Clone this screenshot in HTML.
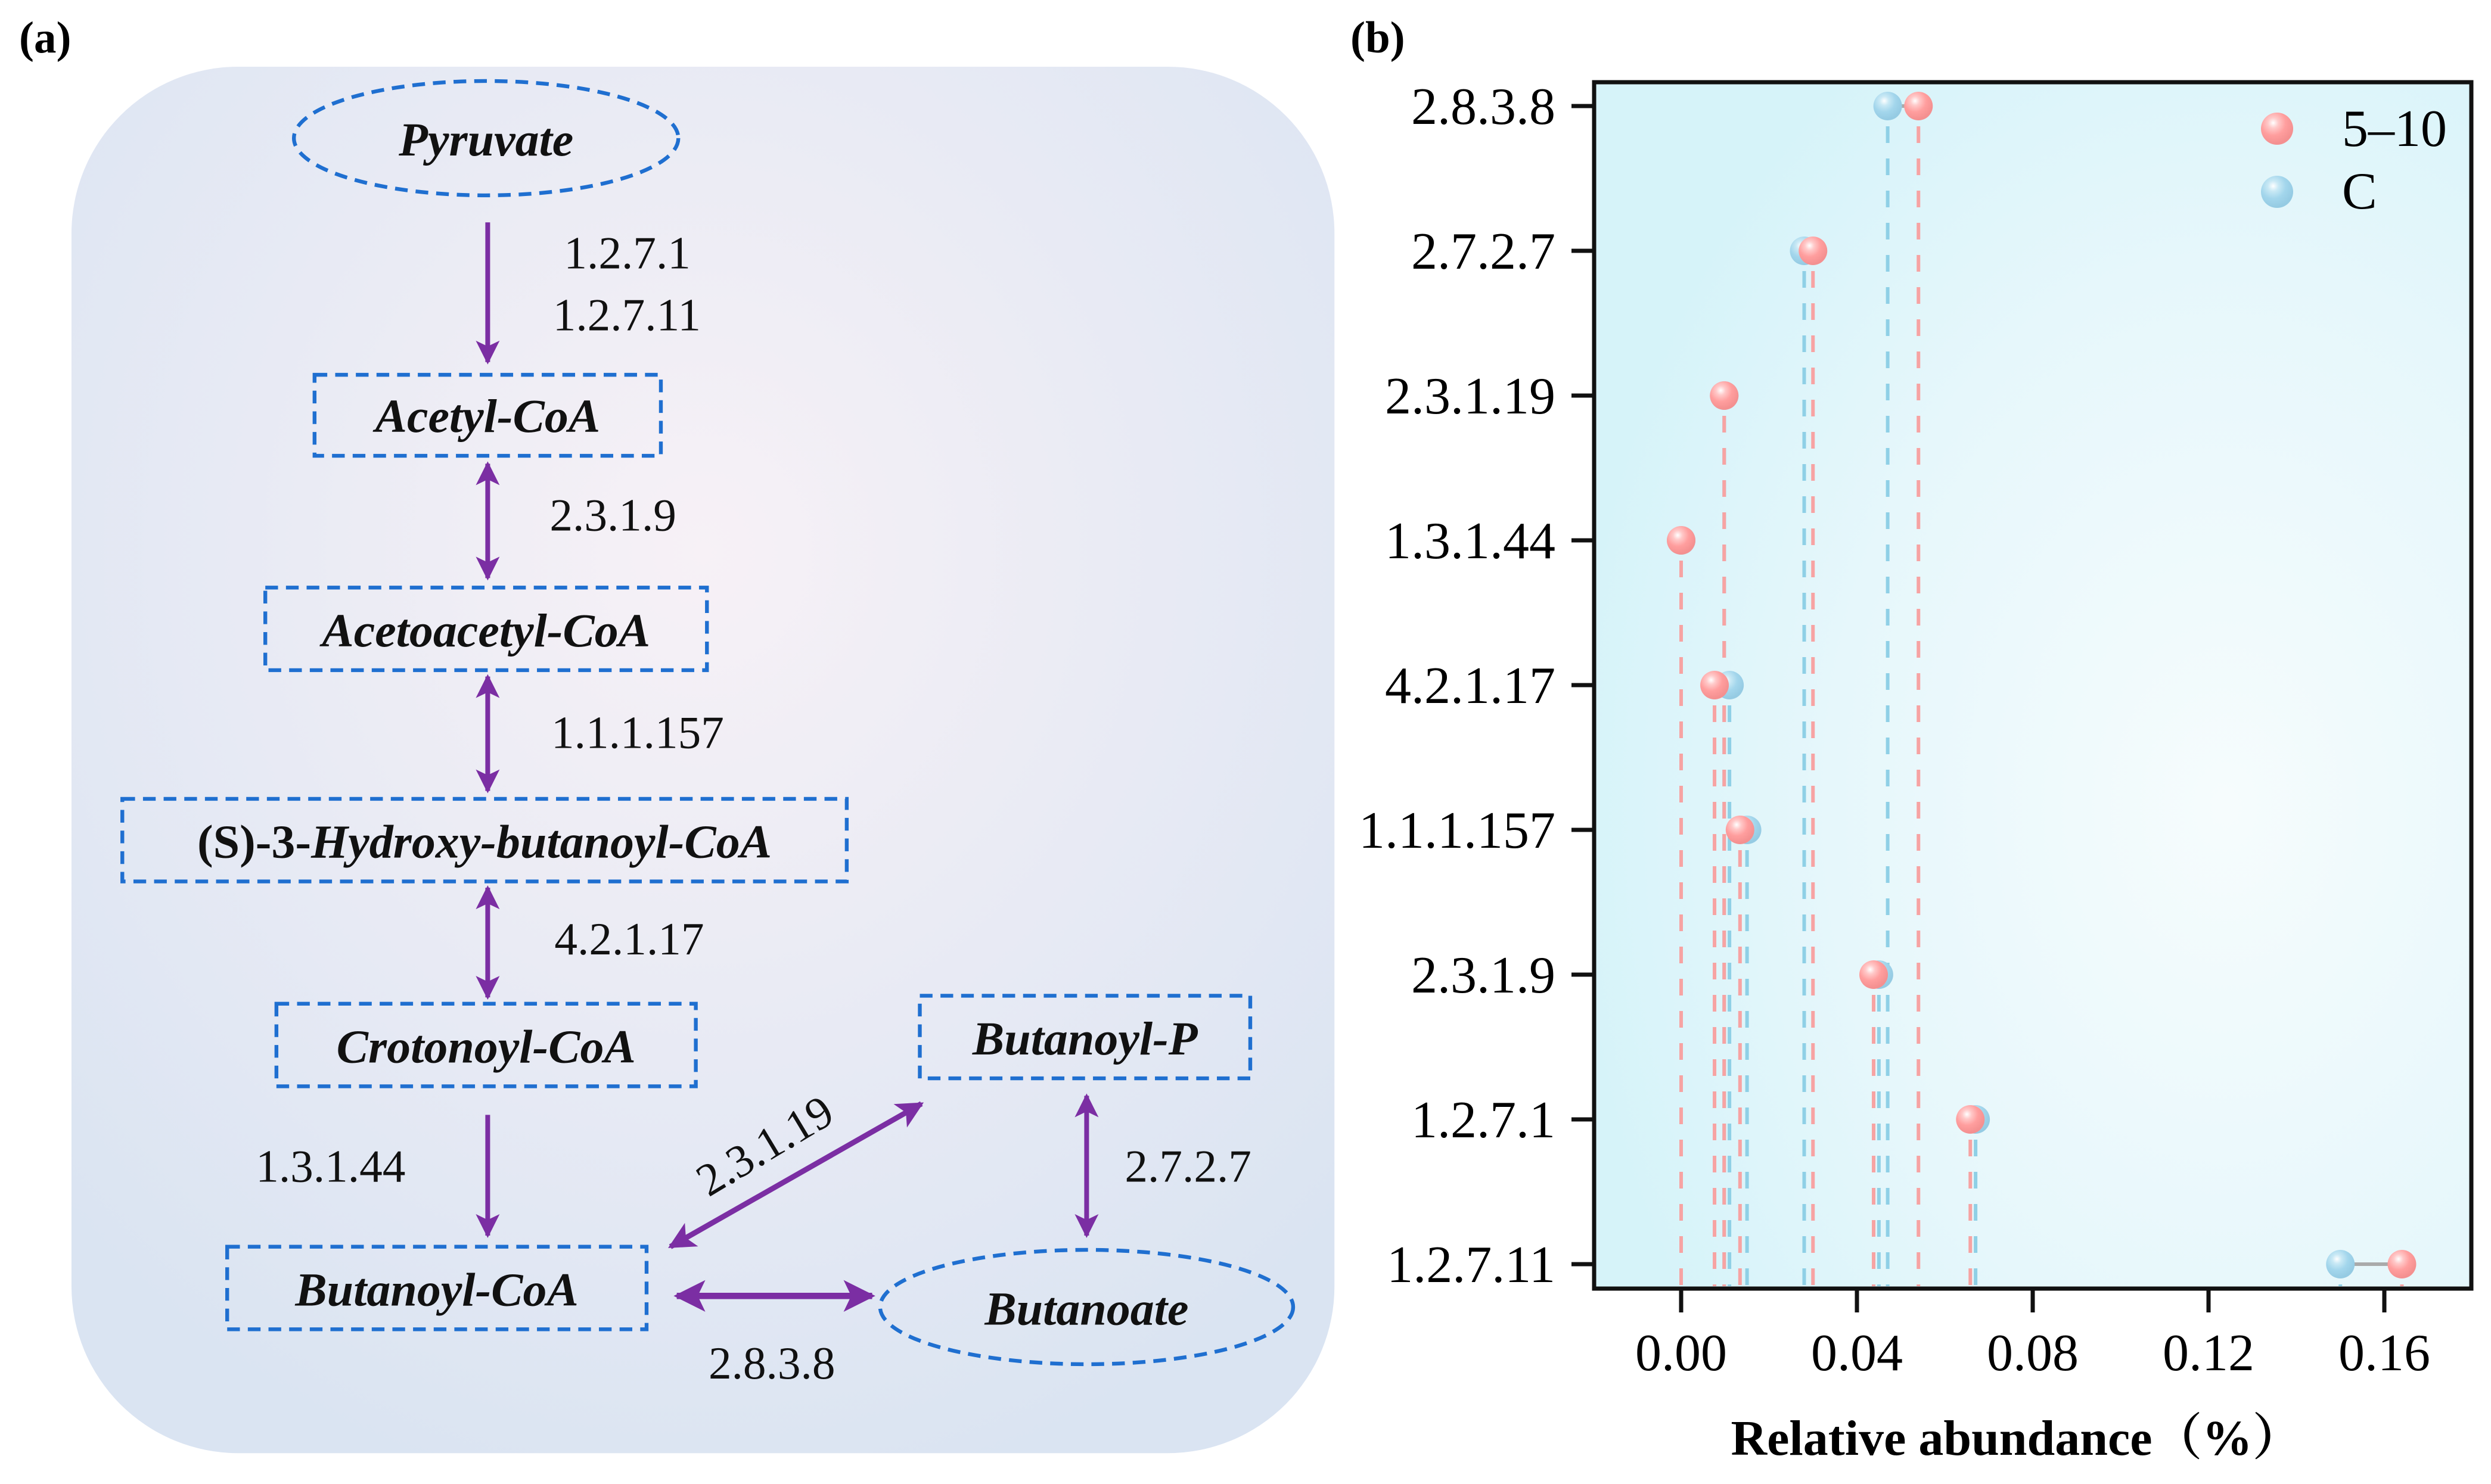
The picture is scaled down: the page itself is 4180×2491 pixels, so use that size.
<!DOCTYPE html>
<html><head><meta charset="utf-8"><style>html,body{margin:0;padding:0;background:#fff}svg{display:block}</style></head>
<body>
<svg id="fig" width="4180" height="2491" viewBox="0 0 4180 2491" xmlns="http://www.w3.org/2000/svg" font-family="'Liberation Serif', serif">
<defs>
<radialGradient id="bgA" cx="0.5" cy="0.35" r="0.7"><stop offset="0" stop-color="#f7f1f6"/><stop offset="1" stop-color="#dae4f2"/></radialGradient>
<radialGradient id="bgB" cx="0.72" cy="0.6" r="0.75"><stop offset="0" stop-color="#f6fcfd"/><stop offset="0.6" stop-color="#e6f7fb"/><stop offset="1" stop-color="#d6f3f9"/></radialGradient>
<radialGradient id="ballR" cx="0.38" cy="0.32" r="0.65"><stop offset="0" stop-color="#ffffff"/><stop offset="0.25" stop-color="#ffc9c9"/><stop offset="0.6" stop-color="#ff9e9e"/><stop offset="1" stop-color="#f49090"/></radialGradient>
<radialGradient id="ballB" cx="0.38" cy="0.32" r="0.65"><stop offset="0" stop-color="#ffffff"/><stop offset="0.25" stop-color="#c9e9f5"/><stop offset="0.6" stop-color="#a3d6ec"/><stop offset="1" stop-color="#95cbe3"/></radialGradient>
<marker id="ah" markerWidth="5" markerHeight="5" refX="4.5" refY="2.5" orient="auto-start-reverse" markerUnits="strokeWidth"><path d="M0,0 L5,2.5 L0,5 L1.2,2.5 Z" fill="#7b2ea3"/></marker>
</defs>

<!-- Panel A -->
<text x="32" y="88" font-size="75" font-weight="bold">(a)</text>
<g transform="scale(2.6658)">
<rect x="45" y="42" width="795" height="873" rx="105" fill="url(#bgA)"/>
<g fill="none" stroke="#1f6fd0" stroke-width="2.4" stroke-dasharray="8 5">
<ellipse cx="306" cy="87" rx="121" ry="36"/>
<rect x="198" y="236" width="218" height="51"/>
<rect x="167" y="370" width="278" height="52"/>
<rect x="77" y="503" width="456" height="52"/>
<rect x="174" y="632" width="264" height="52"/>
<rect x="579" y="627" width="208" height="52"/>
<rect x="143" y="785" width="264" height="52"/>
<ellipse cx="684" cy="823" rx="130" ry="36"/>
</g>
<g font-size="30" font-weight="bold" font-style="italic" text-anchor="middle" fill="#111">
<text x="306" y="98">Pyruvate</text>
<text x="307" y="272">Acetyl-CoA</text>
<text x="306" y="407">Acetoacetyl-CoA</text>
<text x="305" y="540"><tspan font-style="normal">(S)-3-</tspan>Hydroxy-butanoyl-CoA</text>
<text x="306" y="669">Crotonoyl-CoA</text>
<text x="683" y="664">Butanoyl-P</text>
<text x="275" y="822">Butanoyl-CoA</text>
<text x="684" y="834">Butanoate</text>
</g>
<g stroke="#7b2ea3" stroke-width="3" fill="none">
<line x1="307" y1="140" x2="307" y2="228" marker-end="url(#ah)"/>
<line x1="307" y1="292" x2="307" y2="364" marker-start="url(#ah)" marker-end="url(#ah)"/>
<line x1="307" y1="426" x2="307" y2="498" marker-start="url(#ah)" marker-end="url(#ah)"/>
<line x1="307" y1="559" x2="307" y2="628" marker-start="url(#ah)" marker-end="url(#ah)"/>
<line x1="307" y1="702" x2="307" y2="778" marker-end="url(#ah)"/>
<line x1="422" y1="785" x2="580" y2="695" stroke-width="3.4" marker-start="url(#ah)" marker-end="url(#ah)"/>
<line x1="426" y1="816" x2="549" y2="816" stroke-width="4" marker-start="url(#ah)" marker-end="url(#ah)"/>
<line x1="684" y1="690" x2="684" y2="778" marker-start="url(#ah)" marker-end="url(#ah)"/>
</g>
<g font-size="29" fill="#111">
<text x="355" y="169">1.2.7.1</text>
<text x="348" y="208">1.2.7.11</text>
<text x="346" y="334">2.3.1.9</text>
<text x="347" y="471">1.1.1.157</text>
<text x="349" y="601">4.2.1.17</text>
<text x="161" y="744">1.3.1.44</text>
<text x="708" y="744">2.7.2.7</text>
<text x="446" y="868">2.8.3.8</text>
<text x="0" y="0" transform="translate(446,754) rotate(-31)">2.3.1.19</text>
</g>
</g>

<!-- Panel B -->
<text x="2266" y="88" font-size="75" font-weight="bold">(b)</text>
<rect x="2675" y="138" width="1472" height="2025" fill="url(#bgB)"/>
<g id="marks"></g>
<rect x="2675" y="138" width="1472" height="2025" fill="none" stroke="#111" stroke-width="7"/>
<g id="axes"></g>
<g>
<circle cx="3821" cy="216" r="27" fill="url(#ballR)"/>
<text x="3930" y="245" font-size="88">5–10</text>
<circle cx="3821" cy="322" r="27" fill="url(#ballB)"/>
<text x="3930" y="350" font-size="88">C</text>
</g>
<text x="3384" y="2442" font-size="84" font-weight="bold" text-anchor="middle" font-family="'Liberation Serif','Noto Serif CJK SC',serif">Relative abundance（%）</text>
</svg>
<script>
const categories = ["2.8.3.8","2.7.2.7","2.3.1.19","1.3.1.44","4.2.1.17","1.1.1.157","2.3.1.9","1.2.7.1","1.2.7.11"];
const series510 = [0.054,0.030,0.0098,0.000,0.0076,0.0134,0.0438,0.0658,0.164];
const seriesC = [0.047,0.028,0.0098,0.000,0.011,0.015,0.045,0.067,0.150];
const xTicks = [0,0.04,0.08,0.12,0.16];
const xTickLabels = ["0.00","0.04","0.08","0.12","0.16"];

const NS="http://www.w3.org/2000/svg";
const plotL=2675, plotR=4147, plotT=138, plotB=2163;
const xScale=v=>2821+(v/0.04)*295;
const yScale=i=>178+i*243;
function mk(tag,attrs,parent){const e=document.createElementNS(NS,tag);for(const k in attrs)e.setAttribute(k,attrs[k]);parent.appendChild(e);return e;}
const marks=document.getElementById('marks'), axes=document.getElementById('axes');
const R=24;
categories.forEach((c,i)=>{
  [[seriesC[i],'#8fd0e6','stem-c'],[series510[i],'#f7a3a3','stem-5-10']].forEach(([v,col,nm])=>{
    const l=mk('line',{x1:xScale(v),x2:xScale(v),y1:yScale(i)+R+10,y2:plotB-4,stroke:col,'stroke-width':6,'stroke-dasharray':'28 26'},marks);
    
    
  });
});
categories.forEach((c,i)=>{
  const l=mk('line',{x1:xScale(seriesC[i]),x2:xScale(series510[i]),y1:yScale(i),y2:yScale(i),stroke:'#aaa','stroke-width':6},marks);
  
  
});
categories.forEach((c,i)=>{
  const b=mk('circle',{cx:xScale(seriesC[i]),cy:yScale(i),r:R,fill:'url(#ballB)'},marks);
  
  
});
categories.forEach((c,i)=>{
  const b=mk('circle',{cx:xScale(series510[i]),cy:yScale(i),r:R,fill:'url(#ballR)'},marks);
  
  
});
categories.forEach((c,i)=>{
  const t=mk('line',{x1:plotL-38,x2:plotL,y1:yScale(i),y2:yScale(i),stroke:'#111','stroke-width':7},axes);
  
  
  const tx=mk('text',{x:plotL-65,y:yScale(i)+30,'font-size':88,'text-anchor':'end'},axes);
  tx.textContent=c;
  
  
});
xTicks.forEach((v,i)=>{
  const t=mk('line',{x1:xScale(v),x2:xScale(v),y1:plotB,y2:plotB+40,stroke:'#111','stroke-width':7},axes);
  
  
  const tx=mk('text',{x:xScale(v),y:2300,'font-size':88,'text-anchor':'middle'},axes);
  tx.textContent=xTickLabels[i];
  
  
});
</script>
</body></html>
